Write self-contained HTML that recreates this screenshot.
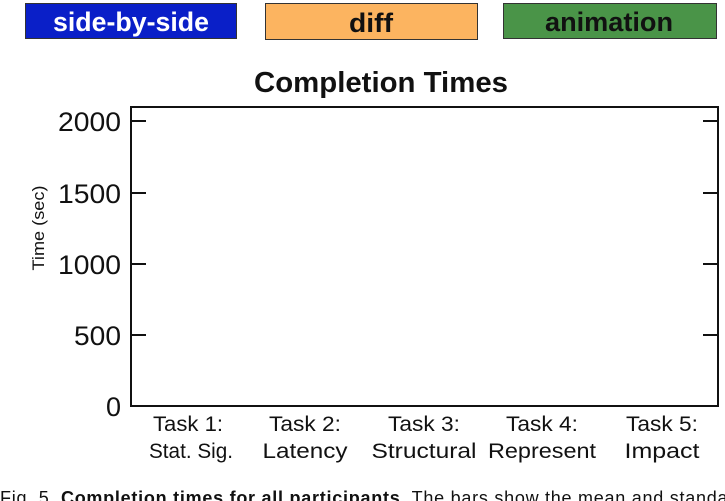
<!DOCTYPE html>
<html><head><meta charset="utf-8"><style>
html,body{margin:0;padding:0;background:#fff;width:725px;height:501px;overflow:hidden}
svg{display:block}
text{font-family:"Liberation Sans",sans-serif}
</style></head><body>
<svg width="725" height="501" viewBox="0 0 725 501" xmlns="http://www.w3.org/2000/svg">
<rect x="25.5" y="3.5" width="211" height="35" fill="#0a1fc8" stroke="#333" stroke-width="1"/>
<rect x="265.5" y="3.5" width="212" height="36" fill="#fcb460" stroke="#333" stroke-width="1"/>
<rect x="503.5" y="3.5" width="213" height="35" fill="#4a9448" stroke="#333" stroke-width="1"/>
<text x="131" y="31" text-anchor="middle" font-size="27" font-weight="bold" fill="#fff" textLength="156" lengthAdjust="spacingAndGlyphs">side-by-side</text>
<text x="371" y="32" text-anchor="middle" font-size="27" font-weight="bold" fill="#111" textLength="44" lengthAdjust="spacingAndGlyphs">diff</text>
<text x="609" y="31" text-anchor="middle" font-size="27" font-weight="bold" fill="#111" textLength="128" lengthAdjust="spacingAndGlyphs">animation</text>
<text x="381" y="92" text-anchor="middle" font-size="29" font-weight="bold" fill="#111" textLength="254" lengthAdjust="spacingAndGlyphs">Completion Times</text>
<rect x="131" y="107" width="587" height="299" fill="none" stroke="#111" stroke-width="2"/>
<g stroke="#111" stroke-width="2">
<line x1="131" y1="121" x2="146" y2="121"/><line x1="131" y1="193" x2="146" y2="193"/><line x1="131" y1="264" x2="146" y2="264"/><line x1="131" y1="335" x2="146" y2="335"/>
<line x1="703" y1="121" x2="718" y2="121"/><line x1="703" y1="193" x2="718" y2="193"/><line x1="703" y1="264" x2="718" y2="264"/><line x1="703" y1="335" x2="718" y2="335"/>
</g>
<g font-size="27" fill="#111" text-anchor="end">
<text x="121" y="131" textLength="63" lengthAdjust="spacingAndGlyphs">2000</text>
<text x="121" y="203" textLength="63" lengthAdjust="spacingAndGlyphs">1500</text>
<text x="121" y="274" textLength="63" lengthAdjust="spacingAndGlyphs">1000</text>
<text x="121" y="345" textLength="47" lengthAdjust="spacingAndGlyphs">500</text>
<text x="121" y="416">0</text>
</g>
<text transform="translate(44,228) rotate(-90)" text-anchor="middle" font-size="17" fill="#111" textLength="85" lengthAdjust="spacingAndGlyphs">Time (sec)</text>
<g font-size="21" fill="#111" text-anchor="middle">
<text x="188" y="431" textLength="70" lengthAdjust="spacingAndGlyphs">Task 1:</text>
<text x="191" y="458" textLength="84" lengthAdjust="spacingAndGlyphs">Stat. Sig.</text>
<text x="305" y="431" textLength="72" lengthAdjust="spacingAndGlyphs">Task 2:</text>
<text x="305" y="458" textLength="85" lengthAdjust="spacingAndGlyphs">Latency</text>
<text x="424" y="431" textLength="72" lengthAdjust="spacingAndGlyphs">Task 3:</text>
<text x="424" y="458" textLength="105" lengthAdjust="spacingAndGlyphs">Structural</text>
<text x="542" y="431" textLength="72" lengthAdjust="spacingAndGlyphs">Task 4:</text>
<text x="542" y="458" textLength="108" lengthAdjust="spacingAndGlyphs">Represent</text>
<text x="662" y="431" textLength="72" lengthAdjust="spacingAndGlyphs">Task 5:</text>
<text x="662" y="458" textLength="75" lengthAdjust="spacingAndGlyphs">Impact</text>
</g>
<text x="0" y="504" font-size="18" fill="#111" textLength="745" lengthAdjust="spacing">Fig. 5. <tspan font-weight="bold">Completion times for all participants.</tspan> The bars show the mean and standard</text>
</svg>
</body></html>
